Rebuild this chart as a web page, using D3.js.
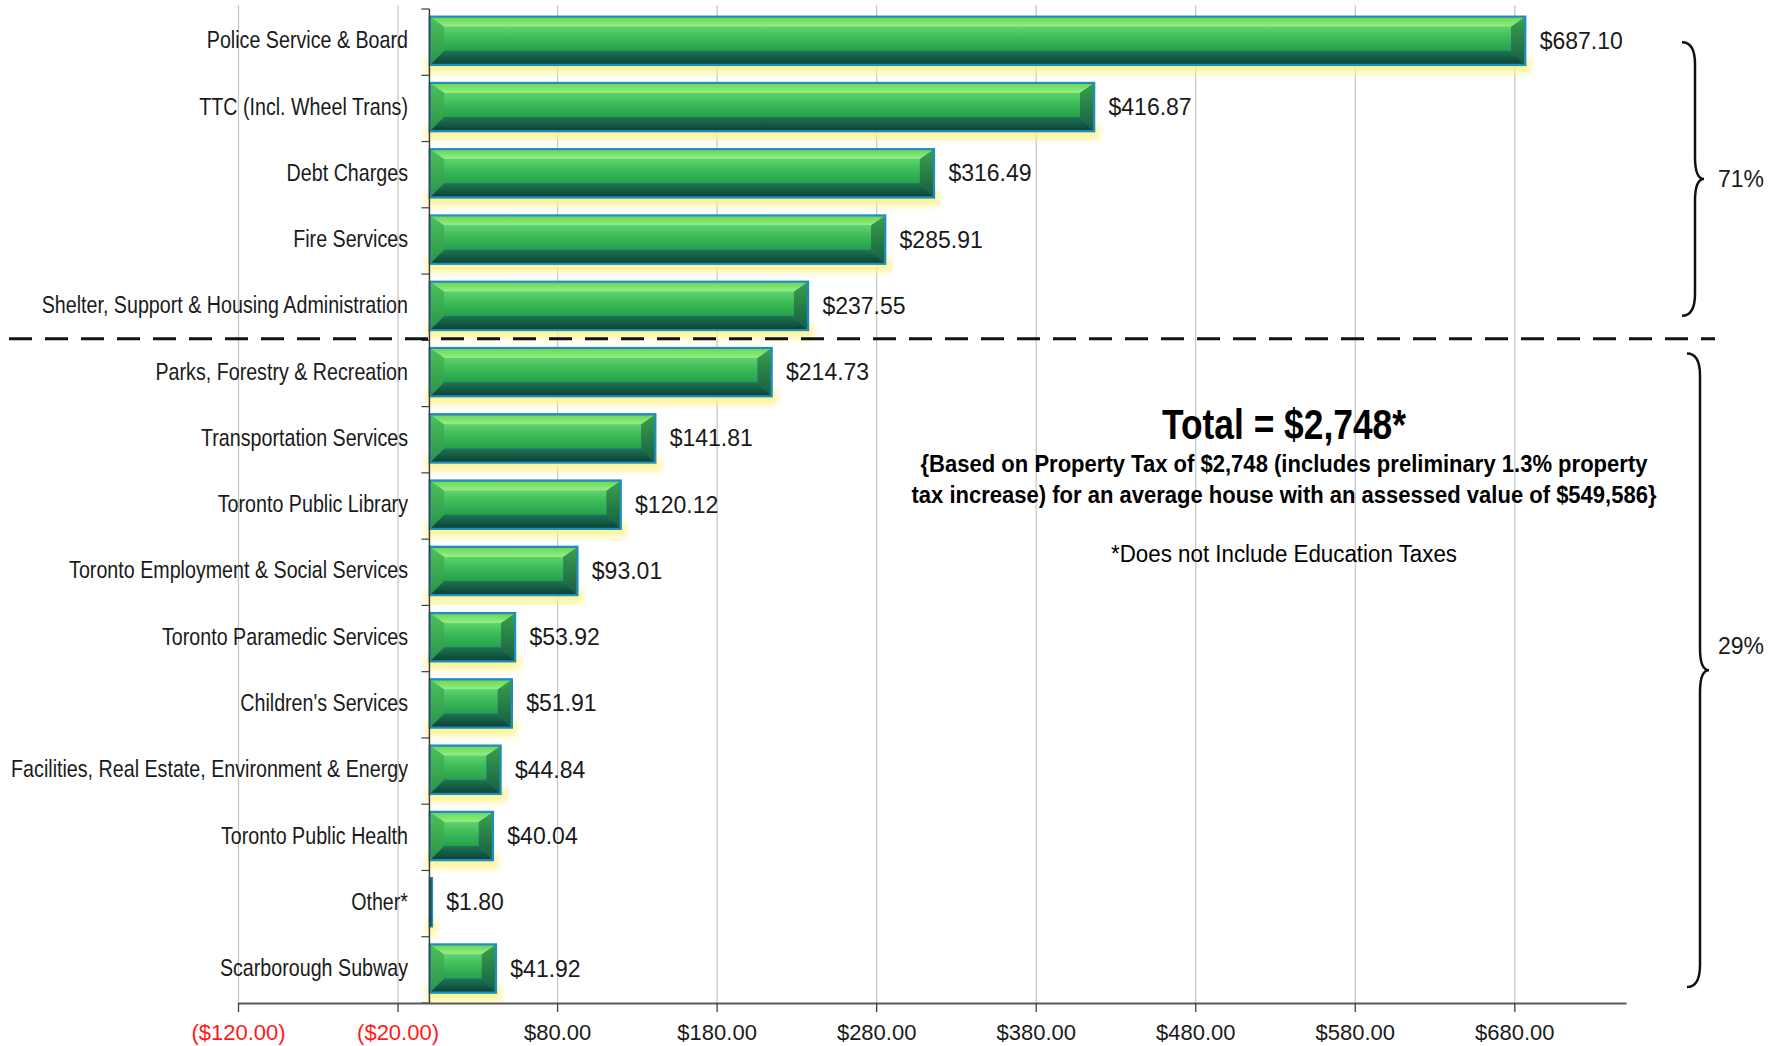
<!DOCTYPE html>
<html>
<head>
<meta charset="utf-8">
<script src="https://cdn.jsdelivr.net/npm/d3@7"></script>
<style>
  body { margin: 0; background: #fff; }
  svg { display: block; }
</style>
</head>
<body>
<div id="chart"></div>
<script>
// Datos
const CATEGORIES = [
  "Police Service & Board",
  "TTC (Incl. Wheel Trans)",
  "Debt Charges",
  "Fire Services",
  "Shelter, Support & Housing Administration",
  "Parks, Forestry & Recreation",
  "Transportation Services",
  "Toronto Public Library",
  "Toronto Employment & Social Services",
  "Toronto Paramedic Services",
  "Children's Services",
  "Facilities, Real Estate, Environment & Energy",
  "Toronto Public Health",
  "Other*",
  "Scarborough Subway"
];
const VALUES = [687.10, 416.87, 316.49, 285.91, 237.55, 214.73, 141.81, 120.12, 93.01, 53.92, 51.91, 44.84, 40.04, 1.80, 41.92];
const TICKS = [-120, -20, 80, 180, 280, 380, 480, 580, 680];
const GROUP_SPLIT = 5;            // las 5 primeras = grupo superior
const GROUP_SHARES = ["71%", "29%"];
const TOTAL_TITLE = "Total = $2,748*";
const NOTE_LINES = [
  "{Based on Property Tax of $2,748 (includes preliminary 1.3% property",
  "tax increase) for an average house with an assessed value of $549,586}"
];
const FOOTNOTE = "*Does not Include Education Taxes";

const W = 1787, H = 1046;
const SANS = "'Liberation Sans', Arial, sans-serif";
const NARROW = "'Liberation Sans Narrow', 'Arial Narrow', 'Liberation Sans', Arial, sans-serif";

const svg = d3.select("#chart").append("svg").attr("width", W).attr("height", H);
svg.append("rect").attr("width", W).attr("height", H).attr("fill", "#fff");

// ¿Existe la fuente estrecha? si no, se comprime a mano
const probe = svg.append("g").attr("opacity", 0);
const wN = probe.append("text").style("font-family", NARROW).style("font-size", "24px").text("Police Service & Board").node().getComputedTextLength();
const wR = probe.append("text").style("font-family", SANS).style("font-size", "24px").text("Police Service & Board").node().getComputedTextLength();
probe.remove();
const narrowScale = wN / wR > 0.95 ? 0.82 : 1;

const x = d3.scaleLinear().domain([-120, 750]).range([238, 1626]);
const y = d3.scaleBand().domain(CATEGORIES).range([9, 1003]);
const bw = y.bandwidth();
const axisY = y.range()[1];

// defs: degradados y brillo
const defs = svg.append("defs");
function vGrad(id, stops) {
  const g = defs.append("linearGradient").attr("id", id).attr("x1", 0).attr("y1", 0).attr("x2", 0).attr("y2", 1);
  stops.forEach(([o, c]) => g.append("stop").attr("offset", o).attr("stop-color", c));
}
vGrad("gTop", [[0, "#6fd55a"], [1, "#92f280"]]);
vGrad("gFront", [[0, "#5fd26c"], [0.45, "#3cbb58"], [1, "#26a04b"]]);
vGrad("gBottom", [[0, "#1e7553"], [1, "#0c4438"]]);
vGrad("gLeft", [[0, "#4cc05a"], [1, "#2a9448"]]);
vGrad("gRight", [[0, "#3a9f4c"], [1, "#175e42"]]);
defs.append("filter").attr("id", "glow").attr("x", "-20%").attr("y", "-100%").attr("width", "140%").attr("height", "300%")
  .append("feGaussianBlur").attr("stdDeviation", 3);

// Rejilla
svg.append("g")
  .attr("transform", `translate(0,${axisY})`)
  .call(d3.axisBottom(x).tickValues(TICKS).tickSize(-(axisY - 5)).tickFormat(""))
  .call(g => g.select(".domain").remove())
  .call(g => g.selectAll("line").attr("stroke", "#c4c4c4").attr("stroke-width", 1.2));

// Etiquetas de categorías
const narrowText = (sel, px, py) => sel.attr("transform", `translate(${px},${py}) scale(${narrowScale},1)`);
svg.append("g").selectAll("text").data(CATEGORIES).join("text")
  .each(function(d) { narrowText(d3.select(this), 408, y(d) + bw * 0.47); })
  .attr("text-anchor", "end").attr("dominant-baseline", "central")
  .style("font-family", NARROW).style("font-size", "24px").attr("fill", "#1a1a1a")
  .text(d => d);

// Barras con bisel
const rows = CATEGORIES.map((c, i) => ({ cat: c, value: VALUES[i] }));
const bars = svg.append("g").selectAll("g.bar").data(rows).join("g").attr("class", "bar");

bars.each(function(d) {
  const g = d3.select(this);
  const x0 = x(0), x1 = x(d.value);
  const y0 = y(d.cat) + bw * 0.11, y1 = y0 + bw * 0.74;
  const w = x1 - x0;

  g.append("rect").attr("x", x0 - 3).attr("y", y1 - 7).attr("width", w + 8).attr("height", 15)
    .attr("fill", "#fff28a").attr("opacity", 0.85).attr("filter", "url(#glow)");

  g.append("rect").attr("x", x0).attr("y", y0).attr("width", Math.max(w, 1)).attr("height", y1 - y0)
    .attr("fill", w < 8 ? "#0f4a3f" : "#1f8ebd").attr("stroke", "#1f8ebd").attr("stroke-width", 1.5);
  if (w < 8) return;

  const a0 = x0 + 1.5, a1 = x1 - 1.5, b0 = y0 + 1.5, b1 = y1 - 1.5;
  const bh = Math.min(13, (a1 - a0) / 2), bt = 9, bb = 13;
  const pts = p => p.map(q => q.join(",")).join(" ");
  g.append("rect").attr("x", a0 + bh).attr("y", b0 + bt).attr("width", Math.max(0, a1 - a0 - 2 * bh)).attr("height", b1 - b0 - bt - bb).attr("fill", "url(#gFront)");
  g.append("polygon").attr("points", pts([[a0, b0], [a1, b0], [a1 - bh, b0 + bt], [a0 + bh, b0 + bt]])).attr("fill", "url(#gTop)");
  g.append("polygon").attr("points", pts([[a0, b1], [a1, b1], [a1 - bh, b1 - bb], [a0 + bh, b1 - bb]])).attr("fill", "url(#gBottom)");
  g.append("polygon").attr("points", pts([[a0, b0], [a0 + bh, b0 + bt], [a0 + bh, b1 - bb], [a0, b1]])).attr("fill", "url(#gLeft)");
  g.append("polygon").attr("points", pts([[a1, b0], [a1 - bh, b0 + bt], [a1 - bh, b1 - bb], [a1, b1]])).attr("fill", "url(#gRight)");
});

// Eje vertical en cero con marcas entre categorías
const yAxis = svg.append("g");
yAxis.append("line").attr("x1", x(0)).attr("x2", x(0)).attr("y1", y.range()[0]).attr("y2", axisY)
  .attr("stroke", "#3f3f3f").attr("stroke-width", 1.5);
yAxis.selectAll("line.tk").data([...CATEGORIES.map(c => y(c)), axisY]).join("line").attr("class", "tk")
  .attr("x1", x(0) - 8).attr("x2", x(0)).attr("y1", d => d).attr("y2", d => d)
  .attr("stroke", "#3f3f3f").attr("stroke-width", 1.2);

// Eje X
const money = d3.format(",.2f");
svg.append("g")
  .attr("transform", `translate(0,${axisY})`)
  .call(d3.axisBottom(x).tickValues(TICKS).tickSize(9).tickSizeOuter(0).tickPadding(12)
    .tickFormat(d => d < 0 ? `($${money(-d)})` : `$${money(d)}`))
  .call(g => g.select(".domain").attr("stroke", "#5a5a5a").attr("stroke-width", 2))
  .call(g => g.selectAll(".tick line").attr("stroke", "#3f3f3f").attr("stroke-width", 1.3))
  .call(g => g.selectAll(".tick text")
    .style("font-family", SANS).style("font-size", "22px")
    .attr("fill", d => d < 0 ? "#ff1a1a" : "#1a1a1a"));

// Valores
svg.append("g").selectAll("text").data(rows).join("text")
  .attr("x", d => x(d.value) + 14).attr("y", d => y(d.cat) + bw * 0.48)
  .attr("dominant-baseline", "central")
  .style("font-family", SANS).style("font-size", "23px").attr("fill", "#1a1a1a")
  .text(d => `$${money(d.value)}`);

// Separador discontinuo
const splitY = y(CATEGORIES[GROUP_SPLIT]) - 1.5;
svg.append("line").attr("x1", 9).attr("x2", 1715).attr("y1", splitY).attr("y2", splitY)
  .attr("stroke", "#111").attr("stroke-width", 3).attr("stroke-dasharray", "23 13");

// Llaves y porcentajes
function brace(xEnd, yTop, yBot) {
  const xs = xEnd + 13, xt = xs + 9, ym = (yTop + yBot) / 2, r = 22;
  return `M${xEnd},${yTop} Q${xs},${yTop} ${xs},${yTop + r} L${xs},${ym - r} Q${xs},${ym} ${xt},${ym}
          Q${xs},${ym} ${xs},${ym + r} L${xs},${yBot - r} Q${xs},${yBot} ${xEnd},${yBot}`;
}
const groups = [
  { top: y(CATEGORIES[0]) + bw * 0.5, bot: y(CATEGORIES[GROUP_SPLIT - 1]) + bw * 0.63, xe: 1682, label: GROUP_SHARES[0], dy: 0 },
  { top: y(CATEGORIES[GROUP_SPLIT]) + bw * 0.2, bot: y(CATEGORIES[CATEGORIES.length - 1]) + bw * 0.76, xe: 1687, label: GROUP_SHARES[1], dy: -24 }
];
svg.append("g").selectAll("path").data(groups).join("path")
  .attr("d", d => brace(d.xe, d.top, d.bot))
  .attr("fill", "none").attr("stroke", "#111").attr("stroke-width", 2.5);
svg.append("g").selectAll("text").data(groups).join("text")
  .attr("x", 1718).attr("y", d => (d.top + d.bot) / 2 + d.dy)
  .attr("dominant-baseline", "central")
  .style("font-family", SANS).style("font-size", "23px").attr("fill", "#1a1a1a")
  .text(d => d.label);

// Recuadro de total
const cx = 1284;
svg.append("text").attr("x", cx).attr("y", 439).attr("text-anchor", "middle")
  .attr("textLength", 244).attr("lengthAdjust", "spacingAndGlyphs")
  .style("font-family", SANS).style("font-size", "42px").style("font-weight", "bold").attr("fill", "#000")
  .text(TOTAL_TITLE);
svg.append("g").selectAll("text").data(NOTE_LINES).join("text")
  .attr("x", cx).attr("y", (d, i) => 472 + i * 31).attr("text-anchor", "middle")
  .attr("textLength", (d, i) => i === 0 ? 727 : 745).attr("lengthAdjust", "spacingAndGlyphs")
  .style("font-family", SANS).style("font-size", "23px").style("font-weight", "bold").attr("fill", "#000")
  .text(d => d);
svg.append("text").attr("x", cx).attr("y", 562).attr("text-anchor", "middle")
  .attr("textLength", 346).attr("lengthAdjust", "spacingAndGlyphs")
  .style("font-family", SANS).style("font-size", "23px").attr("fill", "#000")
  .text(FOOTNOTE);
</script>
</body>
</html>
